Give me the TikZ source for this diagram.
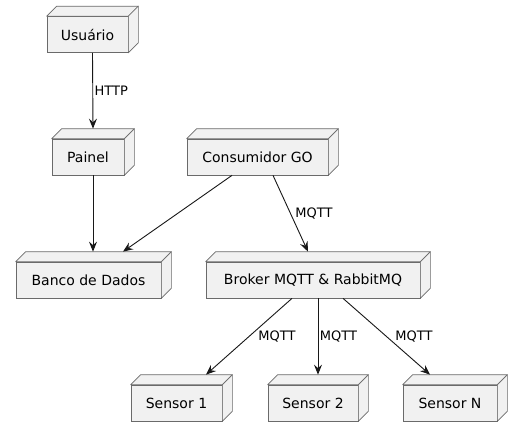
\documentclass[tikz,border=0pt]{standalone}
\usepackage{fontspec}
\setmainfont{DejaVu Sans}
\usetikzlibrary{arrows.meta}
\definecolor{nodefill}{HTML}{F1F1F1}
\definecolor{bordc}{HTML}{6A6A6A}
\definecolor{linec}{HTML}{181818}
\tikzset{
  dep/.style={draw=bordc, fill=nodefill, line width=0.7pt, minimum height=36pt, inner sep=0pt,
    font=\fontsize{14}{16}\selectfont},
  face/.style={draw=bordc, fill=nodefill, line width=0.7pt, line join=round},
  arr/.style={draw=linec, line width=0.9pt, -{Stealth[length=10pt,width=8pt,inset=3.5pt]}},
  lbl/.style={font=\fontsize{13}{15}\selectfont, anchor=west, inner sep=0pt, text=black}
}
\begin{document}
\begin{tikzpicture}[x=1pt,y=-1pt]
\useasboundingbox (0,0) rectangle (522,437);
\fill[white] (0,0) rectangle (522,437);
\node[dep, minimum width=81pt] (u) at (87.5,34.5) {Usuário};
\node[dep, minimum width=72pt] (p) at (88,157) {Painel};
\node[dep, minimum width=141pt] (c) at (257.5,157) {Consumidor GO};
\node[dep, minimum width=145pt] (b) at (88.5,280) {Banco de Dados};
\node[dep, minimum width=214pt] (m) at (313,280) {Broker MQTT \& RabbitMQ};
\node[dep, minimum width=91pt] (s1) at (176.5,403) {Sensor 1};
\node[dep, minimum width=90pt] (s2) at (313,403) {Sensor 2};
\node[dep, minimum width=94pt] (sn) at (450,403) {Sensor N};
\foreach \n in {u,p,c,b,m,s1,s2,sn}{
  \path[face] (\n.north west) -- ([shift={(10pt,10pt)}]\n.north west) -- ([shift={(10pt,10pt)}]\n.north east) -- (\n.north east) -- cycle;
  \path[face] (\n.north east) -- ([shift={(10pt,10pt)}]\n.north east) -- ([shift={(10pt,10pt)}]\n.south east) -- (\n.south east) -- cycle;
}
\draw[arr] ([xshift=5pt]u.south) -- node[lbl, xshift=1.5pt]{HTTP} ([xshift=5pt,yshift=10pt]p.north);
\draw[arr] ([xshift=5pt]p.south) -- ([xshift=4.5pt,yshift=10pt]b.north);
\draw[arr] ([xshift=-25.5pt]c.south) -- ([xshift=34.5pt,yshift=10pt]b.north);
\draw[arr] ([xshift=15.5pt]c.south) -- node[lbl, xshift=4.5pt]{MQTT} ([xshift=-5pt,yshift=10pt]m.north);
\draw[arr] ([xshift=-21pt]m.south) -- node[lbl, xshift=9pt]{MQTT} ([xshift=29.5pt,yshift=10pt]s1.north);
\draw[arr] ([xshift=5pt]m.south) -- node[lbl, xshift=1.5pt]{MQTT} ([xshift=5pt,yshift=10pt]s2.north);
\draw[arr] ([xshift=30pt]m.south) -- node[lbl, xshift=8.5pt]{MQTT} ([xshift=-20pt,yshift=10pt]sn.north);
\end{tikzpicture}
\end{document}
